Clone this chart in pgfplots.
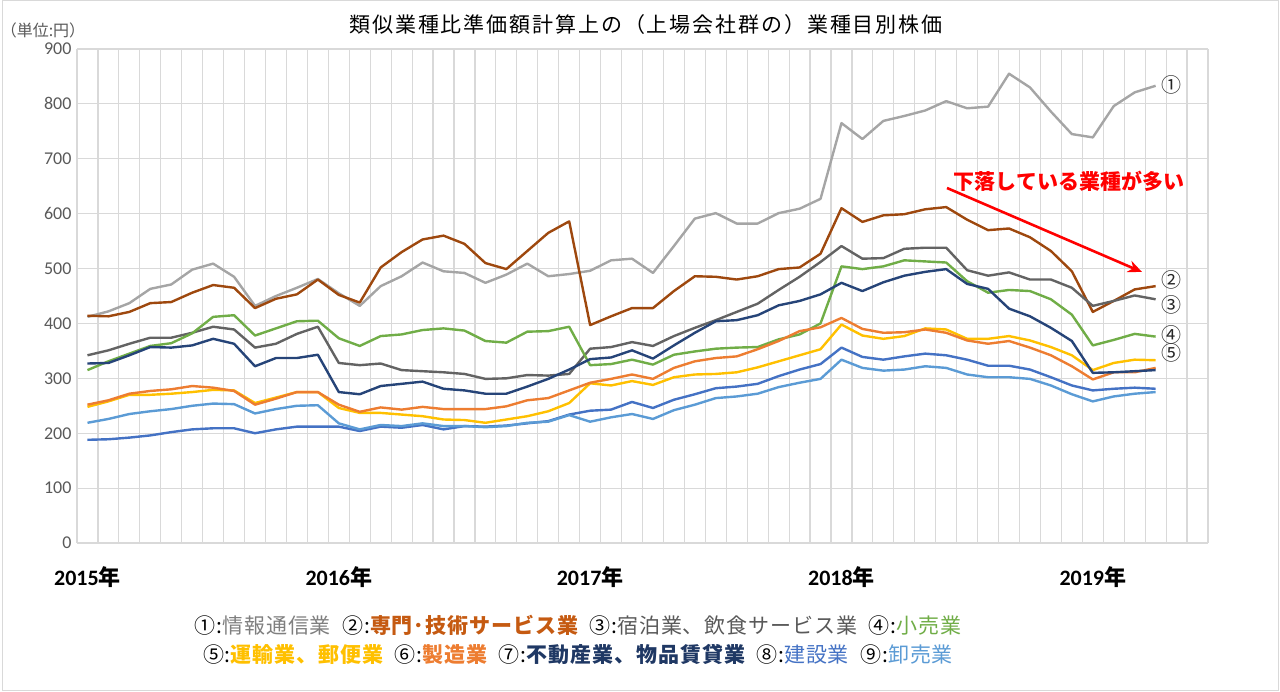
\documentclass[border=0pt]{standalone}
\usepackage{pgfplots}
\pgfplotsset{compat=1.18}
\usepackage{pgfplotstable}
\usetikzlibrary{arrows.meta}
\usepackage{fontspec}
\setmainfont{Noto Sans CJK JP}
\newfontfamily\jpfont{Noto Sans CJK JP}
\newfontfamily\carlito{Carlito}
\definecolor{c1}{HTML}{A5A5A5}
\definecolor{c2}{HTML}{9E480E}
\definecolor{c3}{HTML}{636363}
\definecolor{c4}{HTML}{70AD47}
\definecolor{c5}{HTML}{FFC000}
\definecolor{c6}{HTML}{ED7D31}
\definecolor{c7}{HTML}{264478}
\definecolor{c8}{HTML}{4472C4}
\definecolor{c9}{HTML}{5B9BD5}
\definecolor{t1}{HTML}{7F7F7F}
\definecolor{t2}{HTML}{C55A11}
\definecolor{t3}{HTML}{595959}
\definecolor{t7}{HTML}{1F3864}
\definecolor{gridc}{HTML}{D9D9D9}
\definecolor{labc}{HTML}{595959}

\pgfplotstableread{
i s1 s2 s3 s4 s5 s6 s7 s8 s9
0 412 414 342 315 248 252 327 188 219
1 422 413 351 331 258 260 328 189 226
2 437 421 363 345 270 272 342 192 235
3 463 437 374 359 270 277 357 196 240
4 471 439 374 364 272 280 356 202 244
5 498 456 383 382 275 286 360 207 250
6 509 470 394 412 279 283 372 209 254
7 485 465 389 415 278 277 363 209 253
8 432 428 356 378 255 252 322 200 236
9 450 445 363 391 265 263 337 207 244
10 465 453 381 404 275 275 337 212 250
11 481 480 394 405 275 275 343 212 251
12 455 452 328 373 246 252 275 212 218
13 432 438 324 359 237 239 271 204 207
14 468 502 327 377 237 247 286 212 215
15 486 530 315 380 234 243 290 210 213
16 511 553 313 388 231 248 294 215 218
17 495 560 311 391 225 244 281 207 213
18 492 545 308 387 224 244 278 213 213
19 474 510 299 368 219 244 272 212 211
20 489 499 300 365 225 249 272 214 213
21 509 532 306 385 231 260 285 218 219
22 486 565 305 386 240 264 299 222 221
23 490 586 308 394 255 278 316 234 233
24 496 397 354 324 291 292 335 241 221
25 515 413 357 326 287 299 338 243 229
26 518 428 366 334 295 307 351 257 235
27 492 428 359 325 288 299 336 246 226
28 541 459 377 343 302 319 360 261 242
29 591 486 392 349 307 331 383 271 252
30 601 485 406 354 308 337 404 282 264
31 582 480 421 356 311 340 406 285 267
32 582 486 436 357 320 353 415 290 272
33 601 499 461 371 331 368 433 304 284
34 609 502 485 380 342 386 441 316 292
35 627 527 512 400 353 393 453 326 299
36 765 610 541 504 398 410 474 356 334
37 736 585 518 499 378 390 459 339 319
38 769 597 519 504 372 383 475 334 314
39 778 599 536 515 377 384 487 340 316
40 788 608 538 513 391 389 494 345 322
41 805 612 538 511 389 383 499 342 319
42 792 589 497 477 372 369 472 334 307
43 795 570 487 456 372 363 463 323 302
44 855 573 493 461 377 368 427 323 302
45 830 557 480 459 369 356 413 316 299
46 786 532 480 444 357 342 392 302 287
47 745 495 465 416 342 322 368 287 271
48 739 421 432 360 315 298 310 278 258
49 796 441 441 370 328 311 311 281 267
50 821 462 451 381 334 311 313 283 272
51 833 468 444 376 333 319 315 281 275
}\data

\begin{document}
\begin{tikzpicture}[x=1pt,y=1pt]
\useasboundingbox (0,0) rectangle (1280,691);
\draw[gridc, line width=1pt] (2,1) rectangle (1278,690);
\begin{axis}[
  at={(77pt,148pt)}, anchor=south west,
  scale only axis, width=1131pt, height=494pt,
  xmin=-0.5, xmax=53.5, ymin=0, ymax=900,
  xtick={-0.5,0.5,...,53.5},
  xticklabels={},
  xmajorgrids,
  extra x ticks={0,12,24,36,48},
  extra x tick labels={{\carlito 2015}年,{\carlito 2016}年,{\carlito 2017}年,{\carlito 2018}年,{\carlito 2019}年},
  extra x tick style={grid=none, major tick length=0pt},
  ytick={0,100,...,900}, ymajorgrids,
  major tick length=0pt, minor tick length=0pt,
  axis line style={draw=none},
  major grid style={draw=gridc, line width=1.2pt},
  /pgf/number format/assume math mode=true,
  yticklabel style={font=\carlito\fontsize{18}{18}\selectfont, text=labc, xshift=-2pt},
  xticklabel style={font=\bfseries\fontsize{22}{22}\selectfont, text=black, yshift=-20pt},
  clip=false,
  every axis plot/.append style={line width=2.4pt, line join=round, no marks},
]
\addplot[c1] table[x=i,y=s1] {\data};
\addplot[c2] table[x=i,y=s2] {\data};
\addplot[c3] table[x=i,y=s3] {\data};
\addplot[c4] table[x=i,y=s4] {\data};
\addplot[c5] table[x=i,y=s5] {\data};
\addplot[c6] table[x=i,y=s6] {\data};
\addplot[c7] table[x=i,y=s7] {\data};
\addplot[c8] table[x=i,y=s8] {\data};
\addplot[c9] table[x=i,y=s9] {\data};
\begin{scope}[every node/.style={font=\jpfont\fontsize{20}{20}\selectfont, text=black!85}]
\node at (axis cs:51.78,834) {①};
\node at (axis cs:51.78,480) {②};
\node at (axis cs:51.78,433) {③};
\node at (axis cs:51.78,379) {④};
\node at (axis cs:51.78,346) {⑤};
\end{scope}
\end{axis}
\node[font=\fontsize{21}{21}\selectfont\addfontfeatures{LetterSpace=9}, text=black] at (646,666) {類似業種比準価額計算上の（上場会社群の）業種目別株価};
\node[font=\fontsize{16}{16}\selectfont, text=labc] at (43,661) {（単位:円）};
\node[font=\bfseries\fontsize{21}{21}\selectfont, text=red] at (1069,510) {下落している業種が多い};
\draw[red, line width=2.6pt, -{Stealth[length=14pt,width=12pt]}] (947,503) -- (1142,419);
\begin{scope}[every node/.style={font=\fontsize{21}{21}\selectfont\addfontfeatures{LetterSpace=4.5}}]
\node at (578,66) {①:{\color{t1}情報通信業}\ \ ②:{\bfseries\color{t2}専門･技術サービス業}\ \ ③:{\color{t3}宿泊業、飲食サービス業}\ \ ④:{\color{c4}小売業}};
\node at (578,36) {⑤:{\bfseries\color{c5}運輸業、郵便業}\ \ ⑥:{\bfseries\color{c6}製造業}\ \ ⑦:{\bfseries\color{t7}不動産業、物品賃貸業}\ \ ⑧:{\color{c8}建設業}\ \ ⑨:{\color{c9}卸売業}};
\end{scope}
\end{tikzpicture}
\end{document}
